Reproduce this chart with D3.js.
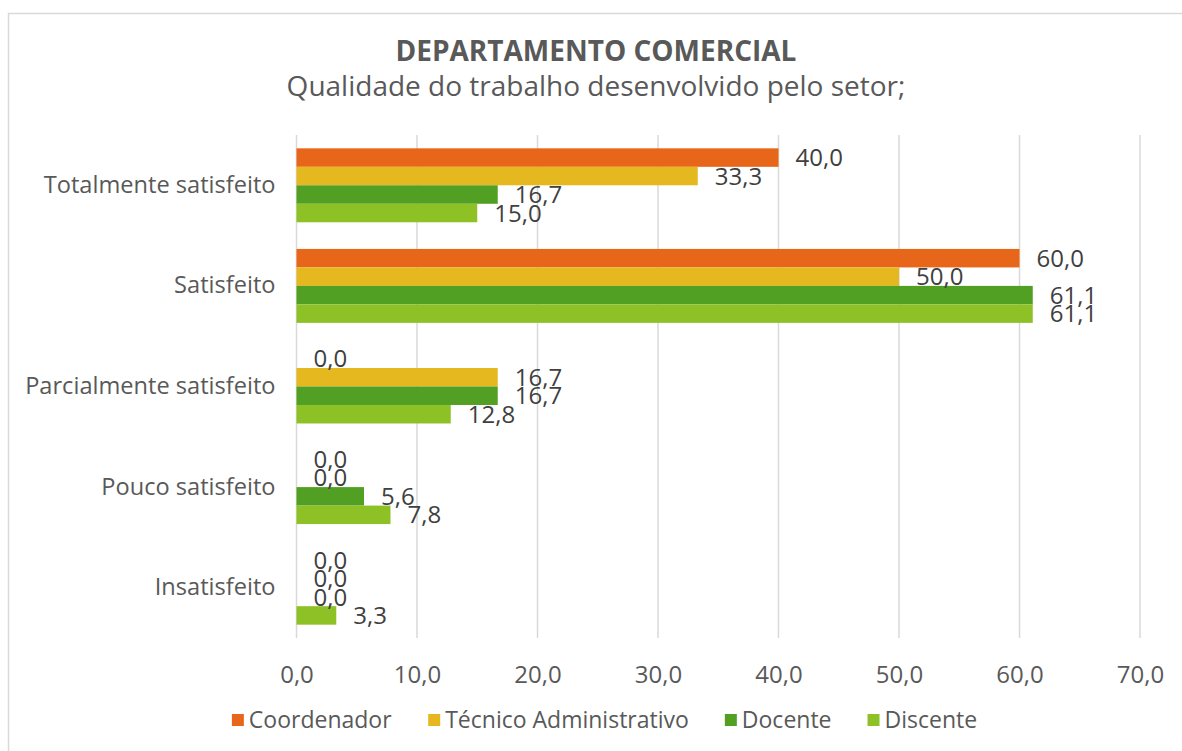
<!DOCTYPE html>
<html>
<head>
<meta charset="utf-8">
<script src="https://cdn.jsdelivr.net/npm/d3@7"></script>
<style>
  html, body { margin: 0; padding: 0; background: #ffffff; }
  svg { display: block; }
  text { font-family: "Open Sans", "DejaVu Sans", sans-serif; }
</style>
</head>
<body>
<svg id="chart" width="1182" height="751"></svg>
<script>
const categories = ["Totalmente satisfeito", "Satisfeito", "Parcialmente satisfeito", "Pouco satisfeito", "Insatisfeito"];
const seriesNames = ["Coordenador", "Técnico Administrativo", "Docente", "Discente"];
const coordenador = [40.0, 60.0, 0.0, 0.0, 0.0];
const tecnicoAdministrativo = [33.3, 50.0, 16.7, 0.0, 0.0];
const docente = [16.7, 61.1, 16.7, 5.6, 0.0];
const discente = [15.0, 61.1, 12.8, 7.8, 3.3];
const xTicks = [0, 10, 20, 30, 40, 50, 60, 70];
const colors = ["#E8661A", "#E6B820", "#52A023", "#8EC126"];
const titleText = "DEPARTAMENTO COMERCIAL";
const subtitleText = "Qualidade do trabalho desenvolvido pelo setor;";

const seriesValues = [coordenador, tecnicoAdministrativo, docente, discente];

const svg = d3.select("#chart");
const W = 1182, H = 751;
const margin = { left: 296.5, right: 42, top: 135, bottom: 113 };
const plotW = W - margin.left - margin.right;
const plotH = H - margin.top - margin.bottom;

// frame
svg.append("rect").attr("x", 8.5).attr("y", 13.5).attr("width", W).attr("height", H)
  .attr("fill", "none").attr("stroke", "#d9d9d9").attr("stroke-width", 1.5);

const x = d3.scaleLinear().domain([0, 70]).range([margin.left, margin.left + plotW]);
const y = d3.scaleBand().domain(categories).range([margin.top, margin.top + plotH]).paddingInner(0.265).paddingOuter(0.1325);
const ySub = d3.scaleBand().domain(seriesNames).range([0, y.bandwidth()]);

// gridlines
svg.append("g").selectAll("line").data(xTicks).join("line")
  .attr("x1", d => x(d)).attr("x2", d => x(d))
  .attr("y1", margin.top).attr("y2", margin.top + plotH)
  .attr("stroke", "#d9d9d9").attr("stroke-width", 1.5);

// x tick labels via axis
const fmt = v => d3.format(".1f")(v).replace(".", ",");
const xAxis = svg.append("g").attr("transform", `translate(0,${margin.top + plotH})`)
  .call(d3.axisBottom(x).tickValues(xTicks).tickFormat(fmt).tickSize(0).tickPadding(28));
xAxis.select(".domain").remove();
xAxis.selectAll("text").attr("font-size", 24).attr("fill", "#595959")
  .attr("font-family", "'Open Sans', sans-serif");

// y labels
const yAxis = svg.append("g").attr("transform", `translate(${margin.left},0)`)
  .call(d3.axisLeft(y).tickSize(0).tickPadding(21));
yAxis.select(".domain").remove();
yAxis.selectAll("text").attr("font-size", 23.6).attr("fill", "#595959")
  .attr("font-family", "'Open Sans', sans-serif");

// bars
const flat = [];
categories.forEach((c, i) => {
  seriesNames.forEach((s, j) => {
    flat.push({ cat: c, series: s, value: seriesValues[j][i], color: colors[j] });
  });
});

svg.append("g").selectAll("rect").data(flat).join("rect")
  .attr("x", x(0))
  .attr("y", d => y(d.cat) + ySub(d.series))
  .attr("width", d => x(d.value) - x(0))
  .attr("height", ySub.bandwidth())
  .attr("fill", d => d.color);

// data labels
svg.append("g").selectAll("text").data(flat).join("text")
  .attr("x", d => x(d.value) + 17)
  .attr("y", d => y(d.cat) + ySub(d.series) + ySub.bandwidth() / 2)
  .attr("dy", "0.36em")
  .attr("font-size", 24)
  .attr("fill", "#404040")
  .text(d => fmt(d.value));

// title
const cx = 596;
svg.append("text").attr("x", cx).attr("y", 61).attr("text-anchor", "middle")
  .attr("font-size", 28).attr("font-weight", "bold").attr("fill", "#595959").text(titleText);
svg.append("text").attr("x", cx).attr("y", 96).attr("text-anchor", "middle")
  .attr("font-size", 28).attr("fill", "#595959").text(subtitleText);

// legend
const legend = svg.append("g");
const items = legend.selectAll("g").data(seriesNames).join("g");
items.append("rect").attr("width", 12).attr("height", 12).attr("y", -12)
  .attr("fill", (d, i) => colors[i]);
items.append("text").attr("x", 17).attr("y", 0).attr("dy", "0.08em")
  .attr("font-size", 23).attr("fill", "#595959").text(d => d);
let pos = 0;
const offsets = [];
const gap = 36;
items.each(function () {
  offsets.push(pos);
  const w = this.getBBox().width;
  pos += w + gap;
});
const total = pos - gap;
const lx0 = 604.5 - total / 2;
items.attr("transform", (d, i) => `translate(${lx0 + offsets[i]},726)`);
</script>
</body>
</html>
